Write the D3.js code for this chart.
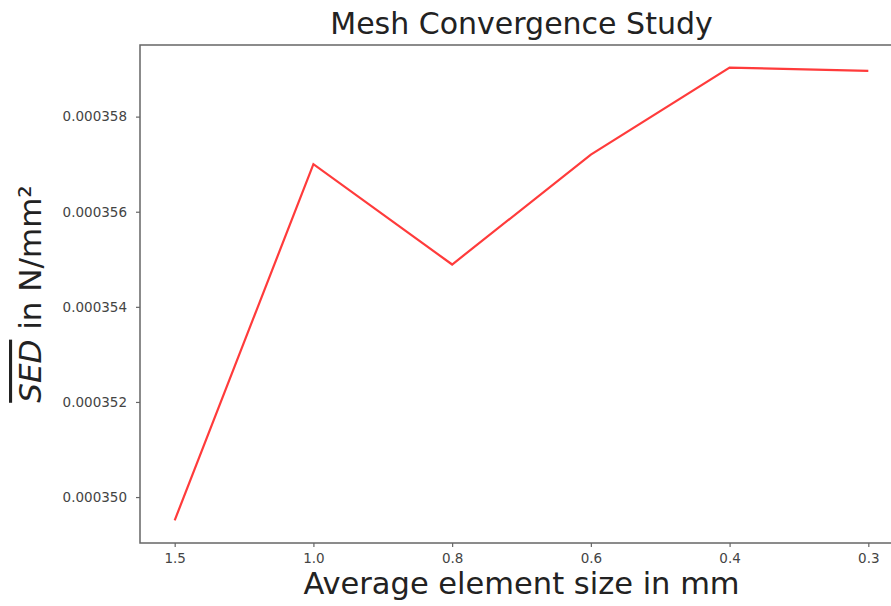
<!DOCTYPE html>
<html>
<head>
<meta charset="utf-8">
<script src="https://cdn.jsdelivr.net/npm/d3@7"></script>
<style>
  body { margin: 0; background: #fff; }
  svg { display: block; font-family: "DejaVu Sans", sans-serif; }
</style>
</head>
<body>
<div id="chart"></div>
<script>
// element sizes (mm) and mean strain energy density
var sizes = ["1.5", "1.0", "0.8", "0.6", "0.4", "0.3"];
var sedValues = [0.00034951, 0.000357, 0.00035489, 0.0003572, 0.00035903, 0.00035896];
var yTicks = [0.000350, 0.000352, 0.000354, 0.000356, 0.000358];

var width = 891, height = 606;
var margin = { top: 45, right: -12, bottom: 63, left: 140 };

var svg = d3.select("#chart").append("svg")
    .attr("width", width)
    .attr("height", height);

var x = d3.scalePoint()
    .domain(sizes)
    .range([margin.left, width - margin.right])
    .padding(0.25);

// matplotlib style 5% margins
var ext = d3.extent(sedValues), pad = (ext[1] - ext[0]) * 0.05;
var y = d3.scaleLinear()
    .domain([ext[0] - pad, ext[1] + pad])
    .range([height - margin.bottom, margin.top]);

// frame
svg.append("rect")
    .attr("x", margin.left)
    .attr("y", margin.top)
    .attr("width", width - margin.right - margin.left)
    .attr("height", height - margin.bottom - margin.top)
    .attr("fill", "none")
    .attr("stroke", "#666")
    .attr("stroke-width", 1.5);

var xAxis = svg.append("g")
    .attr("transform", "translate(0," + (height - margin.bottom) + ")")
    .call(d3.axisBottom(x).tickSize(4).tickPadding(6));

var yAxis = svg.append("g")
    .attr("transform", "translate(" + margin.left + ",0)")
    .call(d3.axisLeft(y).tickValues(yTicks).tickFormat(d3.format(".6f")).tickSize(4).tickPadding(9));

[xAxis, yAxis].forEach(function(a) {
    a.select(".domain").remove();
    a.selectAll("line").attr("stroke", "#666").attr("stroke-width", 1.2);
    a.selectAll("text").attr("fill", "#444").style("font-size", "13.5px").style("font-family", "DejaVu Sans");
});

var line = d3.line()
    .x(function(d, i) { return x(sizes[i]); })
    .y(function(d) { return y(d); });

svg.append("path")
    .datum(sedValues)
    .attr("d", line)
    .attr("fill", "none")
    .attr("stroke", "#ff3b3b")
    .attr("stroke-width", 2.2);

var cx = (margin.left + width - margin.right) / 2;

svg.append("text")
    .attr("x", cx)
    .attr("y", 34)
    .attr("text-anchor", "middle")
    .attr("fill", "#222")
    .style("font-size", "30px")
    .text("Mesh Convergence Study");

svg.append("text")
    .attr("x", cx)
    .attr("y", 594)
    .attr("text-anchor", "middle")
    .attr("fill", "#222")
    .style("font-size", "30.5px")
    .text("Average element size in mm");

var yl = svg.append("text")
    .attr("transform", "translate(41," + ((margin.top + height - margin.bottom) / 2) + ") rotate(-90)")
    .attr("text-anchor", "middle")
    .attr("fill", "#222")
    .style("font-size", "31px");
yl.append("tspan")
    .style("font-style", "italic")
    .style("text-decoration", "overline")
    .text("SED");
yl.append("tspan").text(" in N/mm²");
</script>
</body>
</html>
